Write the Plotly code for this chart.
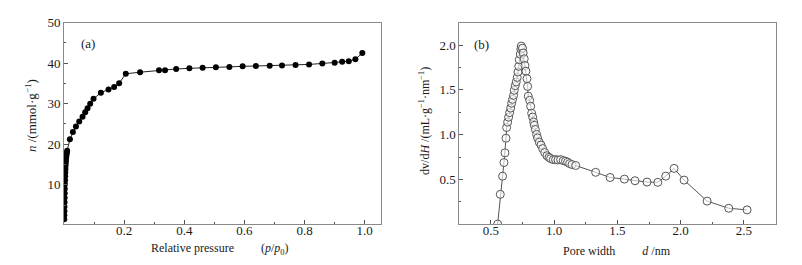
import plotly.graph_objects as go

# ---- Panel (a): N2 adsorption isotherm ----
p_rel = [0.0008, 0.001, 0.0012, 0.0015, 0.0018, 0.002, 0.0023, 0.0026, 0.003, 0.0034,
         0.0038, 0.0042, 0.0047, 0.0052, 0.0058, 0.0064, 0.007, 0.0078, 0.0086, 0.0095, 0.0105,
         0.0196, 0.0296, 0.0396, 0.0506, 0.0617, 0.0705, 0.0783, 0.0871, 0.0982,
         0.1226, 0.148, 0.1668, 0.1834, 0.2055, 0.253, 0.316, 0.336, 0.373, 0.417,
         0.461, 0.505, 0.55, 0.594, 0.638, 0.684, 0.725, 0.77, 0.815, 0.859,
         0.9, 0.925, 0.947, 0.969, 0.992]
n_ads = [1.5, 2.5, 3.5, 4.6, 5.7, 6.8, 7.9, 9.0, 10.1, 11.1,
         12.1, 13.0, 13.9, 14.7, 15.4, 16.0, 16.6, 17.1, 17.6, 18.0, 18.4,
         21.2, 23.0, 24.4, 25.6, 26.8, 27.9, 28.9, 30.0, 31.2,
         32.7, 33.5, 34.1, 35.05, 37.37, 37.76, 38.24, 38.24, 38.56, 38.72,
         38.88, 38.96, 39.04, 39.2, 39.3, 39.36, 39.44, 39.52, 39.68, 39.92,
         40.08, 40.32, 40.48, 40.96, 42.47]

# ---- Panel (b): pore size distribution ----
pore_d = [0.553, 0.574, 0.592, 0.603, 0.611, 0.619, 0.624, 0.632, 0.64, 0.648,
          0.656, 0.664, 0.671, 0.679, 0.684, 0.692, 0.70, 0.708, 0.714, 0.72,
          0.724, 0.732, 0.737, 0.74, 0.75, 0.755, 0.763, 0.769, 0.777, 0.785,
          0.79, 0.795, 0.806, 0.814, 0.822, 0.83, 0.838, 0.843, 0.851, 0.861,
          0.869, 0.882, 0.896, 0.909, 0.925, 0.943, 0.959, 0.972, 0.993, 1.011,
          1.03, 1.051, 1.072, 1.09, 1.106, 1.122, 1.141, 1.17, 1.328, 1.442,
          1.555, 1.639, 1.734, 1.819, 1.882, 1.948, 2.027, 2.209, 2.38, 2.525]
dvdh = [0.0, 0.333, 0.536, 0.688, 0.797, 0.96, 1.08, 1.14, 1.196, 1.246,
        1.297, 1.351, 1.395, 1.44, 1.496, 1.547, 1.59, 1.64, 1.70, 1.764,
        1.837, 1.90, 1.957, 1.99, 1.967, 1.913, 1.848, 1.772, 1.71, 1.626,
        1.539, 1.43, 1.384, 1.318, 1.239, 1.196, 1.141, 1.105, 1.058, 1.003,
        0.963, 0.916, 0.884, 0.844, 0.80, 0.764, 0.746, 0.732, 0.721, 0.721,
        0.717, 0.721, 0.71, 0.703, 0.692, 0.677, 0.666, 0.655, 0.579, 0.521,
        0.503, 0.485, 0.47, 0.467, 0.536, 0.623, 0.492, 0.257, 0.177, 0.159]

xa_ticks = [0.2, 0.4, 0.6, 0.8, 1.0]
ya_ticks = [10, 20, 30, 40, 50]
xb_ticks = [0.5, 1.0, 1.5, 2.0, 2.5]
yb_ticks = [0.5, 1.0, 1.5, 2.0]

FONT = "Liberation Serif"
TXT = "#1a1a1a"
AX = "#8a8a8a"

fig = go.Figure()
fig.add_trace(go.Scatter(
    x=p_rel, y=n_ads, mode="lines+markers", xaxis="x", yaxis="y",
    line=dict(color="#222222", width=1),
    marker=dict(symbol="circle", size=6, color="#000000"),
    showlegend=False, hoverinfo="skip"))
fig.add_trace(go.Scatter(
    x=pore_d, y=dvdh, mode="lines+markers", xaxis="x2", yaxis="y2",
    line=dict(color="#555555", width=1),
    marker=dict(symbol="circle", size=8, color="rgba(255,255,255,0.6)",
                line=dict(color="#555555", width=1)),
    showlegend=False, hoverinfo="skip"))

def axis(domain, rng, ticks, anchor, minor_dtick, standoff=0):
    return dict(domain=domain, range=rng, tickvals=ticks,
                ticktext=[f"{t:.1f}" if isinstance(t, float) else str(t) for t in ticks],
                anchor=anchor, showgrid=False, zeroline=False,
                showline=True, linecolor=AX, linewidth=1, mirror=True,
                ticks="inside", ticklen=4, tickcolor="#555555", tickwidth=1,
                ticklabelstandoff=standoff,
                minor=dict(ticks="inside", ticklen=2, dtick=minor_dtick, tick0=0,
                           tickcolor="#555555", showgrid=False),
                tickfont=dict(family=FONT, size=13, color=TXT))

fig.update_layout(
    width=802, height=265,
    margin=dict(l=0, r=0, t=0, b=0),
    paper_bgcolor="white", plot_bgcolor="white",
    xaxis=axis([0.0798, 0.475], [0, 1.054], xa_ticks, "y", 0.1, -6),
    yaxis=axis([0.1585, 0.9396], [0.3, 50], ya_ticks, "x", 5),
    xaxis2=axis([0.5727, 0.967], [0.25, 2.75], xb_ticks, "y2", 0.25, -6),
    yaxis2=axis([0.1585, 0.9396], [0, 2.253], yb_ticks, "x2", 0.25),
)

W, H = 802, 265
def ann(text, px, py, size=13, angle=0):
    fig.add_annotation(text=text, x=px / W, y=1 - py / H, xref="paper", yref="paper",
                       showarrow=False, textangle=angle, xanchor="center", yanchor="middle",
                       font=dict(family=FONT, size=size, color=TXT))

SP = "\u00a0" * 9
ann("(a)", 87.5, 38)
ann("(b)", 481.5, 39)
ann("<i>n</i> /(mmol·g<sup>−1</sup>)", 31, 112, angle=-90)
ann("dv/d<i>H</i> /(mL·g<sup>−1</sup>·nm<sup>−1</sup>)", 425, 117, size=12, angle=-90)
ann("Relative pressure" + SP + "(<i>p</i>/<i>p</i><sub>0</sub>)", 220, 249, size=12)
ann("Pore width" + SP + "<i>d</i> /nm", 617, 251, size=12)

fig.write_html("out.html", config={"displayModeBar": False, "staticPlot": True},
               post_script="document.body.style.margin='0';document.body.style.overflow='hidden';")
